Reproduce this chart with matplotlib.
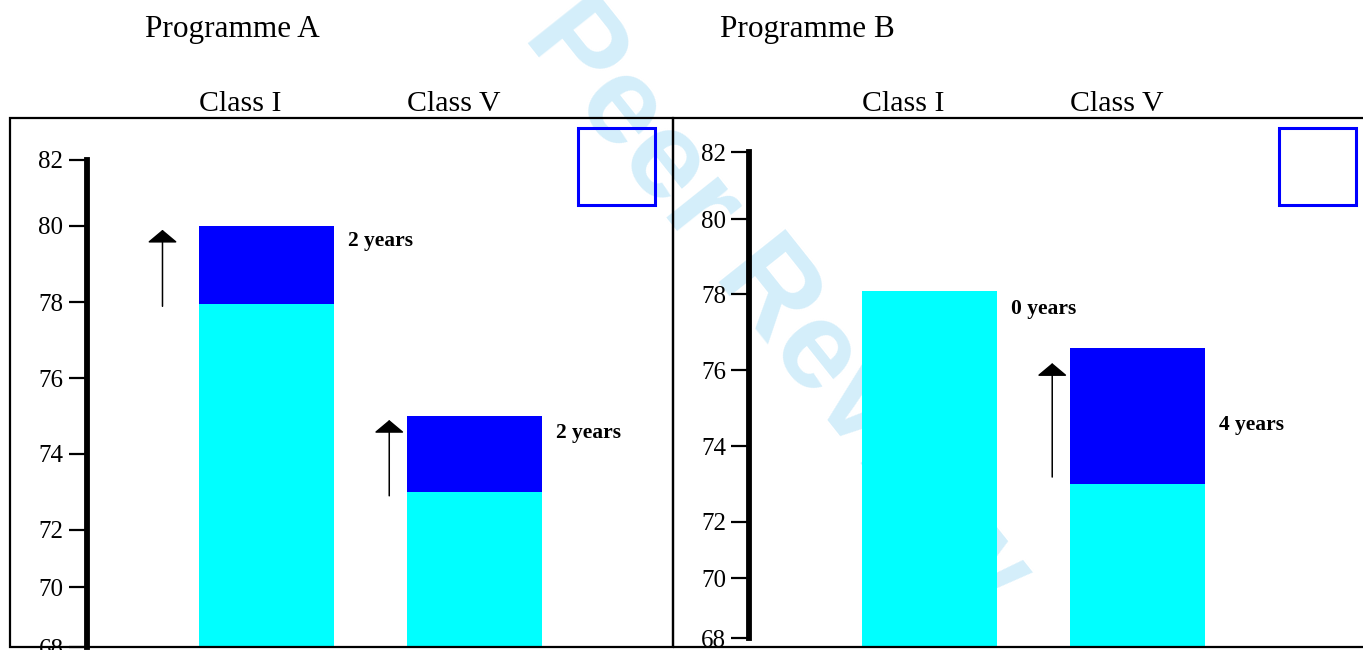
import numpy as np
import matplotlib.pyplot as plt
from matplotlib.patches import Rectangle
from matplotlib.transforms import blended_transform_factory

# data
classes = ['Class I', 'Class V']
prog_a_base = [77.95, 73.0]
prog_a_top = [80.0, 75.0]
prog_a_labels = ['2 years', '2 years']
prog_a_label_y = [79.6, 74.56]
prog_a_arrow_x = [-0.50, 0.59]
prog_a_arrow_from = [77.9, 72.9]
prog_a_arrow_to = [79.9, 74.9]

prog_b_base = [78.08, 73.0]
prog_b_top = [78.08, 76.58]
prog_b_labels = ['0 years', '4 years']
prog_b_label_y = [77.6, 74.55]
prog_b_arrow_x = [None, 0.59]
prog_b_arrow_from = [None, 73.18]
prog_b_arrow_to = [None, 76.18]

yticks = [68, 70, 72, 74, 76, 78, 80, 82]
# the hand-drawn axes are not evenly spaced: pixel height of each tick
# above the panel floor (extra knot at each end to extrapolate)
scale_vals = [66] + yticks + [84]
scale_a = [-66, 0, 60, 117, 193, 268.5, 344.5, 421, 487, 553]
scale_b = [-51, 9, 69, 125.3, 201, 277, 353, 428, 495, 562]

W, H = 1363, 650
SERIF = ['Liberation Serif', 'DejaVu Serif']
CYAN = '#00ffff'
BLUE = '#0000ff'
BAR_W = 0.65
PANEL_H = 529

fig = plt.figure(figsize=(W / 100, H / 100), dpi=100)


def px_box(x0, y0, x1, y1):
    # pixel box (top-left origin) -> figure fraction rect
    return [x0 / W, (H - y1) / H, (x1 - x0) / W, (y1 - y0) / H]


def draw_panel(rect, knots, spine_pos, xlim, base, top, labels, label_y,
               arrow_x, arrow_from, arrow_to, square):
    ax = fig.add_axes(rect)
    ax.patch.set_alpha(0)
    fwd = lambda v: np.interp(v, scale_vals, knots)
    inv = lambda u: np.interp(u, knots, scale_vals)
    ax.set_yscale('function', functions=(fwd, inv))
    ax.set_ylim(float(inv(0)), float(inv(PANEL_H)))
    ax.set_xlim(*xlim)
    ymin = ax.get_ylim()[0]
    x = list(range(len(classes)))

    ax.bar(x, [b - ymin for b in base], bottom=ymin, width=BAR_W,
           color=CYAN, zorder=2)
    ax.bar(x, [t - b for t, b in zip(top, base)], bottom=base, width=BAR_W,
           color=BLUE, zorder=2)

    for i, lab in enumerate(labels):
        ax.text(i + BAR_W / 2 + 0.065, label_y[i], lab, ha='left',
                va='center', fontsize=15.5, fontweight='bold', family=SERIF)
        if arrow_x[i] is not None:
            ax.annotate('', xy=(arrow_x[i], arrow_to[i]),
                        xytext=(arrow_x[i], arrow_from[i]),
                        arrowprops=dict(arrowstyle='-|>,head_length=0.36,head_width=0.43',
                                        color='black', lw=1.1, mutation_scale=22,
                                        shrinkA=0, shrinkB=0))

    trans = blended_transform_factory(ax.transData, ax.transAxes)
    for i, c in enumerate(classes):
        ax.text(i - BAR_W / 2, 1.027, c, transform=trans, ha='left',
                va='center', fontsize=21.5, family=SERIF)

    # y axis
    for s in ['top', 'right', 'bottom']:
        ax.spines[s].set_visible(False)
    ax.spines['left'].set_position(('axes', spine_pos))
    ax.spines['left'].set_bounds(68, 82)
    ax.spines['left'].set_linewidth(4.2)
    ax.set_yticks(yticks)
    ax.set_yticklabels([str(t) for t in yticks], fontsize=18, family=SERIF)
    ax.tick_params(axis='y', length=13, width=1.6, pad=3.6)
    ax.set_xticks([])
    ax.minorticks_off()

    # frame around the panel
    ax.add_patch(Rectangle((0, 0), 1, 1, transform=ax.transAxes, fill=False,
                           lw=1.6, edgecolor='black', clip_on=False, zorder=3))
    # empty legend square
    ax.add_patch(Rectangle(square[:2], square[2], square[3],
                           transform=ax.transAxes, fill=False, lw=2.2,
                           edgecolor=BLUE, clip_on=False, zorder=3))
    return ax


draw_panel(px_box(10, 118, 673, 647), scale_a, (86.5 - 10) / 663,
           (-1.233, 1.954), prog_a_base, prog_a_top, prog_a_labels,
           prog_a_label_y, prog_a_arrow_x, prog_a_arrow_from, prog_a_arrow_to,
           (0.857, 0.8355, 0.116, 0.1456))

draw_panel(px_box(673, 118, 1368, 647), scale_b, (749 - 673) / 695,
           (-1.233, 2.108), prog_b_base, prog_b_top, prog_b_labels,
           prog_b_label_y, prog_b_arrow_x, prog_b_arrow_from, prog_b_arrow_to,
           (0.872, 0.8355, 0.111, 0.1456))

fig.text(145 / W, 1 - 30 / H, 'Programme A', ha='left', va='center',
         fontsize=22.5, family=SERIF)
fig.text(720 / W, 1 - 30 / H, 'Programme B', ha='left', va='center',
         fontsize=22.5, family=SERIF)

# watermark behind everything
fig.text(522 / W, 1 - 36 / H, 'Peer Review', rotation=-51.5,
         rotation_mode='anchor', ha='left', va='baseline', fontsize=90,
         fontweight='bold', family=['Liberation Sans', 'DejaVu Sans'],
         color='#d4eefa', zorder=-1)

fig.savefig('out.png', dpi=100, facecolor='white')
